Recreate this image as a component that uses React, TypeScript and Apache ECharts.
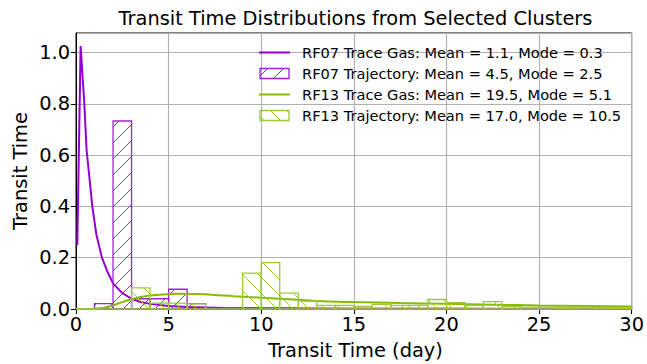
import React, { useEffect, useRef } from "react";
import * as echarts from "echarts";

// ---- Data ----
const RF07_GAS_X = [0.07, 0.25, 0.45, 0.57, 0.7, 0.88, 1.1, 1.4, 1.7, 2.0, 2.5, 3.0, 3.5, 4.0, 5.0, 6.0, 8.0, 10, 15, 20, 30];
const RF07_GAS_Y = [0.25, 1.025, 0.8, 0.62, 0.53, 0.4, 0.29, 0.2, 0.145, 0.1, 0.062, 0.04, 0.027, 0.02, 0.012, 0.008, 0.004, 0.0025, 0.001, 0.0005, 0.0002];

const RF13_GAS_X = [0, 0.5, 1.0, 1.5, 2.0, 2.5, 3.0, 3.5, 4.0, 4.7, 5.5, 6.5, 7.5, 8.5, 10, 12, 13, 15, 17.5, 20, 22.5, 25, 27.5, 30];
const RF13_GAS_Y = [0, 0, 0.001, 0.005, 0.014, 0.027, 0.038, 0.047, 0.053, 0.057, 0.059, 0.058, 0.055, 0.05, 0.044, 0.036, 0.031, 0.027, 0.023, 0.02, 0.017, 0.014, 0.012, 0.01];

const BIN_LEFT = [0, 1, 2, 3, 4, 5, 6, 7, 8, 9, 10, 11, 12, 13, 14, 15, 16, 17, 18, 19, 20, 21, 22, 23, 24, 25, 26, 27, 28, 29];
const BIN_WIDTH = 1;
const RF07_TRAJ = [0, 0.021, 0.733, 0.04, 0.04, 0.077, 0.021, 0.003, 0.005, 0.005, 0.004, 0.004, 0.002, 0.002, 0.002, 0.002, 0.002, 0.002, 0.002, 0.002, 0.002, 0.002, 0.002, 0.002, 0.002, 0.002, 0.002, 0.002, 0.002, 0.002];
const RF13_TRAJ = [0, 0, 0, 0.082, 0.023, 0.023, 0.02, 0, 0, 0.14, 0.181, 0.062, 0.031, 0.014, 0.014, 0.01, 0.018, 0.014, 0.014, 0.037, 0.025, 0.014, 0.029, 0.01, 0.007, 0.007, 0.005, 0.007, 0.005, 0.005];

const X_TICKS = [0, 5, 10, 15, 20, 25, 30];
const Y_TICKS = [0, 0.2, 0.4, 0.6, 0.8, 1.0];

const LEGEND_LABELS = [
  "RF07 Trace Gas: Mean = 1.1, Mode = 0.3",
  "RF07 Trajectory: Mean = 4.5, Mode = 2.5",
  "RF13 Trace Gas: Mean = 19.5, Mode = 5.1",
  "RF13 Trajectory: Mean = 17.0, Mode = 10.5",
];

const PURPLE = "#9400d3";
const PURPLE_HIST = "#a020e0";
const GREEN = "#86bb00";
const GREEN_HIST = "#9cc93a";
const FONT = "DejaVu Sans";

const HATCH_STEP = 16;

function hatchLines(x0: number, y0: number, x1: number, y1: number, dir: string, color: string) {
  const out: any[] = [];
  const style = { stroke: color, lineWidth: 1, fill: "none" };
  if (x1 - x0 < 0.5 || y1 - y0 < 0.5) return out;
  if (dir === "/") {
    const cmin = x0 + y0, cmax = x1 + y1;
    for (let c = Math.ceil(cmin / HATCH_STEP) * HATCH_STEP; c <= cmax; c += HATCH_STEP) {
      const xa = Math.max(x0, c - y1), xb = Math.min(x1, c - y0);
      if (xb > xa) out.push({ type: "line", shape: { x1: xa, y1: c - xa, x2: xb, y2: c - xb }, style });
    }
  } else {
    const cmin = y0 - x1, cmax = y1 - x0;
    for (let c = Math.ceil(cmin / HATCH_STEP) * HATCH_STEP; c <= cmax; c += HATCH_STEP) {
      const xa = Math.max(x0, y0 - c), xb = Math.min(x1, y1 - c);
      if (xb > xa) out.push({ type: "line", shape: { x1: xa, y1: xa + c, x2: xb, y2: xb + c }, style });
    }
  }
  return out;
}

function histRender(color: string, dir: string) {
  return (params: any, api: any) => {
    const l = api.value(0), r = api.value(1), h = api.value(2);
    const p0 = api.coord([l, h]);
    const p1 = api.coord([r, 0]);
    const x0 = p0[0], y0 = p0[1], x1 = p1[0], y1 = p1[1];
    const children: any[] = hatchLines(x0, y0, x1, y1, dir, color);
    children.push({
      type: "rect",
      shape: { x: x0, y: y0, width: x1 - x0, height: Math.max(y1 - y0, 0) },
      style: { fill: "none", stroke: color, lineWidth: 1.3 },
    });
    return { type: "group", children };
  };
}

export default function App() {
  const ref = useRef<HTMLDivElement>(null);
  useEffect(() => {
    if (!ref.current) return;
    const chart = echarts.init(ref.current, undefined, { renderer: "svg" });

    const gridLeft = 76, gridRight = 12, gridTop = 33, gridBottom = 55;
    const plotCx = (gridLeft + (647 - gridRight)) / 2;
    const plotCy = (gridTop + (364 - gridBottom)) / 2;

    const rf07Line = RF07_GAS_X.map((x, i) => [x, RF07_GAS_Y[i]]);
    const rf13Line = RF13_GAS_X.map((x, i) => [x, RF13_GAS_Y[i]]);
    const rf07Hist = BIN_LEFT.map((l, i) => [l, l + BIN_WIDTH, RF07_TRAJ[i]]);
    const rf13Hist = BIN_LEFT.map((l, i) => [l, l + BIN_WIDTH, RF13_TRAJ[i]]);

    // legend graphics
    const legX0 = 259, legX1 = 290, legTextX = 302;
    const rows = [52.5, 73.5, 94.5, 115.5];
    const legend: any[] = [];
    const kinds = [
      { kind: "line", color: PURPLE },
      { kind: "hatch", color: PURPLE_HIST, dir: "/" },
      { kind: "line", color: GREEN },
      { kind: "hatch", color: GREEN_HIST, dir: "\\" },
    ];
    kinds.forEach((k: any, i) => {
      const y = rows[i];
      if (k.kind === "line") {
        legend.push({ type: "line", z: 100, shape: { x1: legX0, y1: y, x2: legX1, y2: y }, style: { stroke: k.color, lineWidth: 2 } });
      } else {
        const x0 = legX0 + 1, x1 = legX1 - 1, y0 = y - 5, y1 = y + 5;
        hatchLines(x0, y0, x1, y1, k.dir, k.color).forEach((c) => legend.push({ ...c, z: 100 }));
        legend.push({ type: "rect", z: 100, shape: { x: x0, y: y0, width: x1 - x0, height: y1 - y0 }, style: { fill: "none", stroke: k.color, lineWidth: 1.3 } });
      }
      legend.push({
        type: "text",
        z: 100,
        x: legTextX,
        y: y,
        style: { text: LEGEND_LABELS[i], fontFamily: FONT, fontSize: 14.6, fill: "#000", textAlign: "left", textVerticalAlign: "middle" },
      });
    });

    chart.setOption({
      animation: false,
      backgroundColor: "#fff",
      grid: {
        left: gridLeft, right: gridRight, top: gridTop, bottom: gridBottom,
        show: true, borderColor: "#000", borderWidth: 1, backgroundColor: "transparent",
      },
      xAxis: {
        type: "value",
        min: X_TICKS[0],
        max: X_TICKS[X_TICKS.length - 1],
        interval: 5,
        axisLine: { show: true, onZero: false, lineStyle: { color: "#000", width: 1 } },
        axisTick: { show: true, length: 5, lineStyle: { color: "#000" } },
        axisLabel: { color: "#000", fontFamily: FONT, fontSize: 19.4, margin: 6 },
        splitLine: { show: true, lineStyle: { color: "#b0b0b0", width: 1.1 } },
      },
      yAxis: {
        type: "value",
        min: Y_TICKS[0],
        max: 1.076,
        interval: 0.2,
        axisLine: { show: true, lineStyle: { color: "#000", width: 1 } },
        axisTick: { show: true, length: 5, lineStyle: { color: "#000" } },
        axisLabel: {
          color: "#000", fontFamily: FONT, fontSize: 19.4, margin: 6, showMaxLabel: false,
          formatter: (v: number) => (v > 1.01 ? "" : v.toFixed(1)),
        },
        splitLine: { show: true, lineStyle: { color: "#b0b0b0", width: 1.1 } },
      },
      series: [
        {
          name: "RF07 Trace Gas",
          type: "line",
          data: rf07Line,
          showSymbol: false,
          symbol: "none",
          lineStyle: { color: PURPLE, width: 2 },
          itemStyle: { color: PURPLE },
          z: 2,
        },
        {
          name: "RF07 Trajectory",
          type: "custom",
          data: rf07Hist,
          encode: { x: [0, 1], y: 2 },
          renderItem: histRender(PURPLE_HIST, "/"),
          z: 3,
        },
        {
          name: "RF13 Trace Gas",
          type: "line",
          data: rf13Line,
          showSymbol: false,
          symbol: "none",
          smooth: 0.3,
          lineStyle: { color: GREEN, width: 2 },
          itemStyle: { color: GREEN },
          z: 4,
        },
        {
          name: "RF13 Trajectory",
          type: "custom",
          data: rf13Hist,
          encode: { x: [0, 1], y: 2 },
          renderItem: histRender(GREEN_HIST, "\\"),
          z: 5,
        },
      ],
      graphic: [
        {
          type: "text",
          z: 100,
          x: plotCx,
          y: 18,
          style: { text: "Transit Time Distributions from Selected Clusters", fontFamily: FONT, fontSize: 19.4, fill: "#000", textAlign: "center", textVerticalAlign: "middle" },
        },
        {
          type: "text",
          z: 100,
          x: plotCx,
          y: 350,
          style: { text: "Transit Time (day)", fontFamily: FONT, fontSize: 19.4, fill: "#000", textAlign: "center", textVerticalAlign: "middle" },
        },
        {
          type: "text",
          z: 100,
          x: 20,
          y: plotCy,
          rotation: Math.PI / 2,
          style: { text: "Transit Time", fontFamily: FONT, fontSize: 19.4, fill: "#000", textAlign: "center", textVerticalAlign: "middle" },
        },
        ...legend,
      ],
    });
    return () => chart.dispose();
  }, []);
  return <div ref={ref} style={{ position: "absolute", left: 0, top: 0, width: 647, height: 364 }} />;
}
